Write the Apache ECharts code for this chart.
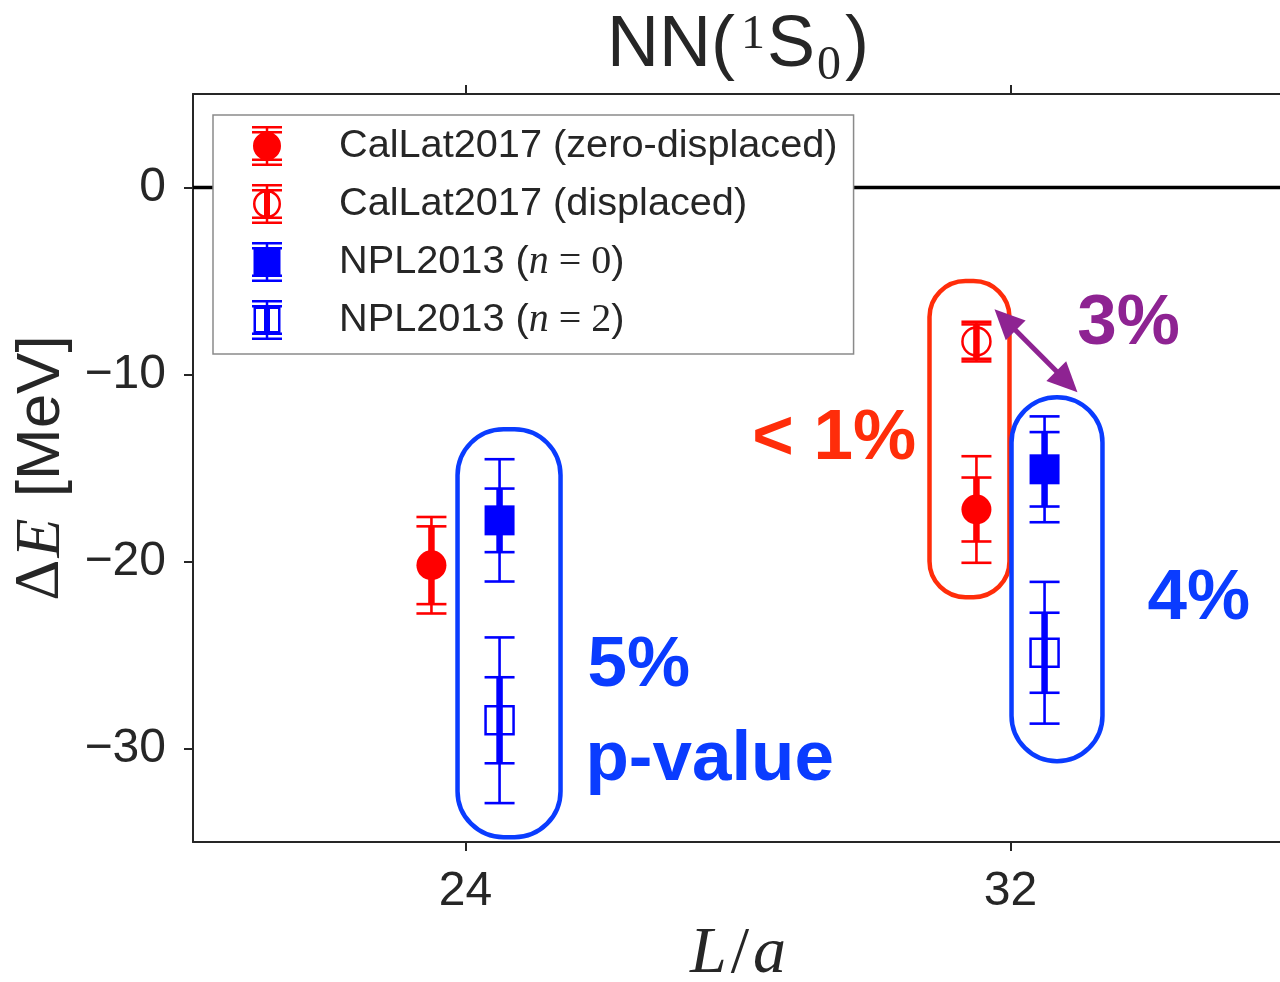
<!DOCTYPE html>
<html><head><meta charset="utf-8">
<script src="https://cdn.jsdelivr.net/npm/echarts@6/dist/echarts.min.js"></script>
<style>html,body{margin:0;padding:0;background:#fff}#c{width:1280px;height:982px}</style>
</head><body><div id="c"></div>
<script>
// ---- data ----
const xTicks = [24, 32];
const yTicks = [-30, -20, -10, 0];
const names = ['CalLat2017 (zero-displaced)', 'CalLat2017 (displaced)', 'NPL2013 (n=0)', 'NPL2013 (n=2)'];

const callatZeroX = [23.5, 31.5];
const callatZeroY = [-20.2, -17.22];
const callatZeroErrIn = [2.08, 1.71];
const callatZeroErrOut = [2.58, 2.85];

const callatDispX = [31.5];
const callatDispY = [-8.24];
const callatDispErrIn = [0.92];
const callatDispErrOut = [1.06];

const nplN0X = [24.5, 32.5];
const nplN0Y = [-17.8, -15.07];
const nplN0ErrIn = [1.7, 1.99];
const nplN0ErrOut = [3.27, 2.83];

const nplN2X = [24.5, 32.5];
const nplN2Y = [-28.49, -24.88];
const nplN2ErrIn = [2.3, 2.14];
const nplN2ErrOut = [4.43, 3.79];

// ---- styles ----
const RED = '#ff0000', BLUE = '#0000ff';
const TXT = '#262626';
const SANS = 'Liberation Sans', SERIF = 'Liberation Serif';

function errSeries(name, xs, ys, ein, eout, color) {
  return {
    type: 'custom', name, z: 3, silent: true, animation: false,
    encode: { x: 0, y: 1 },
    data: xs.map((x, i) => [x, ys[i], ein[i], eout[i]]),
    renderItem(params, api) {
      const x = api.value(0), y = api.value(1), ei = api.value(2), eo = api.value(3);
      const o1 = api.coord([x, y + eo]), o2 = api.coord([x, y - eo]);
      const i1 = api.coord([x, y + ei]), i2 = api.coord([x, y - ei]);
      const hw = 15;
      const line = (a, b, lw) => ({ type: 'line', shape: { x1: a[0], y1: a[1], x2: b[0], y2: b[1] }, style: { stroke: color, lineWidth: lw } });
      const cap = (p) => ({ type: 'line', shape: { x1: p[0] - hw, y1: p[1], x2: p[0] + hw, y2: p[1] }, style: { stroke: color, lineWidth: 2.6 } });
      return { type: 'group', children: [line(o1, o2, 2.6), line(i1, i2, 6.5), cap(o1), cap(o2), cap(i1), cap(i2)] };
    }
  };
}
function markSeries(name, xs, ys, symbol, size, color, hollow) {
  return {
    type: 'scatter', name, z: 4, silent: true, animation: false,
    data: xs.map((x, i) => [x, ys[i]]),
    symbol, symbolSize: size,
    itemStyle: hollow ? { color: 'rgba(0,0,0,0)', borderColor: color, borderWidth: 2.5, opacity: 1 } : { color, borderWidth: 0, opacity: 1 }
  };
}

// legend icons (30 x 40 box)
const R = (x, y, w, h) => `M${x} ${y}L${x + w} ${y}L${x + w} ${y + h}L${x} ${y + h}Z`;
const Rccw = (x, y, w, h) => `M${x} ${y}L${x} ${y + h}L${x + w} ${y + h}L${x + w} ${y}Z`;
const bars = R(13.75, 0, 2.5, 40) + R(12, 5, 6, 30) + R(0, 0, 30, 2.5) + R(0, 37.5, 30, 2.5) + R(0, 5, 30, 2.5) + R(0, 32.5, 30, 2.5);
const circ = (r) => `M${15 + r} 20A${r} ${r} 0 1 1 ${15 - r} 20A${r} ${r} 0 1 1 ${15 + r} 20Z`;
const circCcw = (r) => `M${15 + r} 20A${r} ${r} 0 1 0 ${15 - r} 20A${r} ${r} 0 1 0 ${15 + r} 20Z`;
const icons = [
  'path://' + bars + circ(14),
  'path://' + bars + circ(14) + circCcw(11.5),
  'path://' + bars + R(1.5, 6.5, 27, 27),
  'path://' + bars + R(1.5, 6.5, 27, 27) + Rccw(4, 9, 22, 22)
];
const legendLabels = {
  [names[0]]: '{sp| }{t|CalLat2017 (zero-displaced)}',
  [names[1]]: '{sp| }{t|CalLat2017 (displaced)}',
  [names[2]]: '{sp| }{t|NPL2013 (}{m|n}{s| = 0}{t|)}',
  [names[3]]: '{sp| }{t|NPL2013 (}{m|n}{s| = 2}{t|)}'
};

const chart = echarts.init(document.getElementById('c'), null, { renderer: 'canvas' });
const minus = v => v < 0 ? '\u2212' + Math.abs(v) : String(v);

chart.setOption({
  animation: false,
  backgroundColor: '#fff',
  grid: { left: 193, top: 94, width: 1090, height: 748, containLabel: false, outerBoundsMode: 'none' },
  xAxis: [{
    type: 'value', min: 20, max: 36, position: 'bottom',
    axisLine: { onZero: false, lineStyle: { color: TXT, width: 2 } },
    axisTick: { customValues: xTicks, length: 9, lineStyle: { color: TXT, width: 2 } },
    axisLabel: { customValues: xTicks, margin: 26, fontFamily: SANS, fontSize: 48, color: TXT },
    splitLine: { show: false },
    name: '{l|L}{s|/}{a|a}', nameLocation: 'middle', nameGap: 80,
    nameTextStyle: {
      color: TXT, fontSize: 66,
      rich: {
        l: { fontFamily: SERIF, fontStyle: 'italic', fontSize: 66, color: TXT },
        s: { fontFamily: SERIF, fontSize: 66, color: TXT, padding: [0, 4, 0, 4] },
        a: { fontFamily: SERIF, fontStyle: 'italic', fontSize: 66, color: TXT }
      }
    }
  }, {
    type: 'value', min: 20, max: 36, position: 'top',
    axisLine: { onZero: false, lineStyle: { color: TXT, width: 2 } },
    axisTick: { customValues: xTicks, length: 9, lineStyle: { color: TXT, width: 2 } },
    axisLabel: { show: false }, splitLine: { show: false }
  }],
  yAxis: [{
    type: 'value', min: -35, max: 5,
    axisLine: { onZero: false, lineStyle: { color: TXT, width: 2 } },
    axisTick: { customValues: yTicks, length: 9, lineStyle: { color: TXT, width: 2 } },
    axisLabel: { customValues: yTicks, margin: 27, fontFamily: SANS, fontSize: 48, color: TXT, formatter: minus },
    splitLine: { show: false },
    name: '{d|\u0394}{e|E}{t| [MeV]}', nameLocation: 'middle', nameGap: 110,
    nameTextStyle: {
      color: TXT, fontSize: 62,
      rich: {
        d: { fontFamily: SERIF, fontSize: 64, color: TXT },
        e: { fontFamily: SERIF, fontStyle: 'italic', fontSize: 64, color: TXT, padding: [0, 4, 0, 2] },
        t: { fontFamily: SANS, fontSize: 62, color: TXT }
      }
    }
  }],
  legend: {
    orient: 'vertical', left: 213, top: 115,
    padding: [11, 16, 14, 39],
    itemWidth: 30, itemHeight: 40, itemGap: 18,
    backgroundColor: '#fff', borderColor: '#8a8a8a', borderWidth: 1.5,
    selectedMode: false, z: 10,
    formatter: n => legendLabels[n],
    textStyle: {
      fontFamily: SANS, fontSize: 39.7, color: TXT,
      rich: {
        sp: { width: 52, fontSize: 39.7 },
        t: { fontFamily: SANS, fontSize: 39.7, color: TXT },
        m: { fontFamily: SERIF, fontStyle: 'italic', fontSize: 40, color: TXT },
        s: { fontFamily: SERIF, fontSize: 40, color: TXT }
      }
    },
    data: [
      { name: names[0], icon: icons[0], itemStyle: { color: RED, borderWidth: 0 } },
      { name: names[1], icon: icons[1], itemStyle: { color: RED, borderWidth: 0 } },
      { name: names[2], icon: icons[2], itemStyle: { color: BLUE, borderWidth: 0 } },
      { name: names[3], icon: icons[3], itemStyle: { color: BLUE, borderWidth: 0 } }
    ]
  },
  series: [
    { type: 'line', data: [[20, 0], [36, 0]], symbol: 'none', silent: true, z: 1,
      lineStyle: { color: '#000', width: 3.5 } },
    errSeries(names[0], callatZeroX, callatZeroY, callatZeroErrIn, callatZeroErrOut, RED),
    markSeries(names[0], callatZeroX, callatZeroY, 'circle', 30, RED, false),
    errSeries(names[1], callatDispX, callatDispY, callatDispErrIn, callatDispErrOut, RED),
    markSeries(names[1], callatDispX, callatDispY, 'circle', 28, RED, true),
    errSeries(names[2], nplN0X, nplN0Y, nplN0ErrIn, nplN0ErrOut, BLUE),
    markSeries(names[2], nplN0X, nplN0Y, 'rect', 30, BLUE, false),
    errSeries(names[3], nplN2X, nplN2Y, nplN2ErrIn, nplN2ErrOut, BLUE),
    markSeries(names[3], nplN2X, nplN2Y, 'rect', 28, BLUE, true)
  ]
});

// ---- annotations (placed in data coordinates) ----
const ANN_BLUE = '#0a3cff', ANN_RED = '#ff2d0a', PURPLE = '#8e2392';
const boxes = [
  { x0: 23.883, x1: 25.395, y0: -12.93, y1: -34.74, color: ANN_BLUE, r: 46 },
  { x0: 30.811, x1: 31.985, y0: -5.0, y1: -21.91, color: ANN_RED, r: 36 },
  { x0: 32.015, x1: 33.35, y0: -11.21, y1: -30.68, color: ANN_BLUE, r: 46 }
];
const labels = [
  { text: '< 1%', x: 28.21, y: -13.46, color: ANN_RED },
  { text: '3%', x: 32.98, y: -7.31, color: PURPLE },
  { text: '5%', x: 25.79, y: -25.63, color: ANN_BLUE },
  { text: 'p-value', x: 25.76, y: -30.63, color: ANN_BLUE },
  { text: '4%', x: 34.01, y: -22.02, color: ANN_BLUE }
];
const arrowEnds = [[31.765, -6.51], [32.983, -10.95]];

const px = p => chart.convertToPixel({ xAxisIndex: 0, yAxisIndex: 0 }, p);
const g = [];
boxes.forEach(b => {
  const a = px([b.x0, b.y0]), c = px([b.x1, b.y1]);
  g.push({ type: 'rect', z: 20, silent: true,
    shape: { x: a[0], y: a[1], width: c[0] - a[0], height: c[1] - a[1], r: b.r },
    style: { fill: 'none', stroke: b.color, lineWidth: 4.5 } });
});
labels.forEach(l => {
  const p = px([l.x, l.y]);
  g.push({ type: 'text', z: 20, silent: true, x: p[0], y: p[1],
    style: { text: l.text, fill: l.color, font: 'bold 71px "Liberation Sans"', align: 'left', verticalAlign: 'middle' } });
});
(function () {
  const p1 = px(arrowEnds[0]), p2 = px(arrowEnds[1]);
  const dx = p2[0] - p1[0], dy = p2[1] - p1[1], L = Math.hypot(dx, dy);
  const ux = dx / L, uy = dy / L, nx = -uy, ny = ux;
  const hl = 30, hw = 14;
  const b1 = [p1[0] + ux * hl, p1[1] + uy * hl], b2 = [p2[0] - ux * hl, p2[1] - uy * hl];
  g.push({ type: 'line', z: 20, silent: true, shape: { x1: b1[0] - ux * 2, y1: b1[1] - uy * 2, x2: b2[0] + ux * 2, y2: b2[1] + uy * 2 }, style: { stroke: PURPLE, lineWidth: 5 } });
  g.push({ type: 'polygon', z: 20, silent: true, shape: { points: [p1, [b1[0] + nx * hw, b1[1] + ny * hw], [b1[0] - nx * hw, b1[1] - ny * hw]] }, style: { fill: PURPLE } });
  g.push({ type: 'polygon', z: 20, silent: true, shape: { points: [p2, [b2[0] + nx * hw, b2[1] + ny * hw], [b2[0] - nx * hw, b2[1] - ny * hw]] }, style: { fill: PURPLE } });
})();
// title
const tc = px([28, 0]);
g.push({ type: 'text', z: 20, silent: true, x: tc[0], y: 46,
  style: {
    text: '{a|NN(}{sup|1}{a|S}{sub|0}{a|)}', align: 'center', verticalAlign: 'middle',
    rich: {
      a: { fontFamily: SANS, fontSize: 72, lineHeight: 120, fill: TXT, verticalAlign: 'middle' },
      sup: { fontFamily: SERIF, fontSize: 48, lineHeight: 48, padding: [0, 2, 22, 6], fill: TXT, verticalAlign: 'middle' },
      sub: { fontFamily: SERIF, fontSize: 48, lineHeight: 48, padding: [40, 4, 0, 2], fill: TXT, verticalAlign: 'middle' }
    }
  } });
chart.setOption({ graphic: g });
</script>
</body></html>
